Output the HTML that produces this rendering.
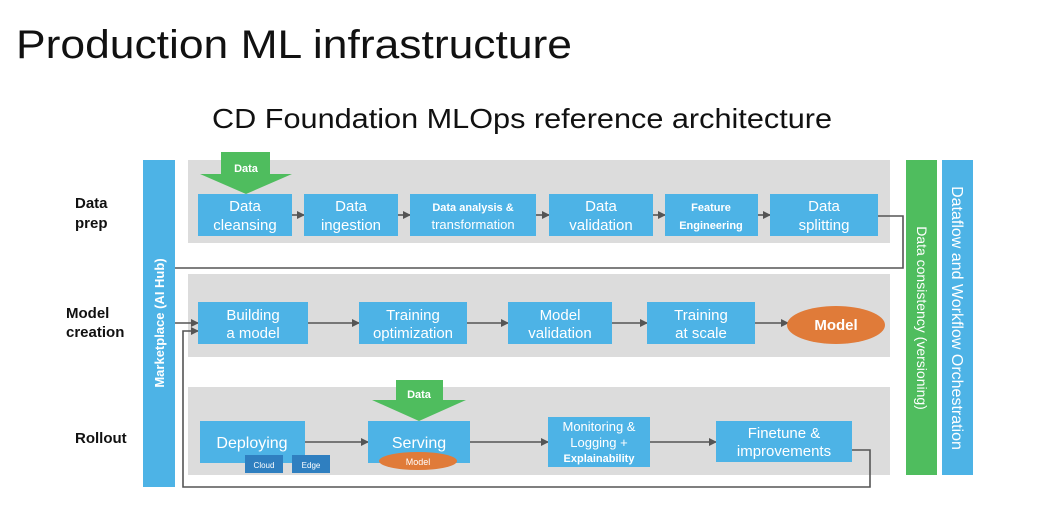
<!DOCTYPE html>
<html><head><meta charset="utf-8"><style>
html,body{margin:0;padding:0;background:#fff;}
svg{display:block;font-family:"Liberation Sans",sans-serif;}
</style></head><body>
<svg width="1064" height="522" viewBox="0 0 1064 522" xmlns="http://www.w3.org/2000/svg">
<defs>
<marker id="a" markerWidth="8" markerHeight="8" refX="7" refY="4" orient="auto" markerUnits="userSpaceOnUse">
<path d="M0,0 L8,4 L0,8 z" fill="#555"/></marker>
</defs>
<rect width="1064" height="522" fill="#fff"/>
<text x="16" y="58" font-size="40" fill="#111" textLength="556" lengthAdjust="spacingAndGlyphs">Production ML infrastructure</text>
<text x="212" y="128" font-size="28" fill="#111" textLength="620" lengthAdjust="spacingAndGlyphs">CD Foundation MLOps reference architecture</text>

<g font-weight="bold" font-size="15" fill="#111">
<text x="75" y="208">Data</text><text x="75" y="228">prep</text>
<text x="66" y="318">Model</text><text x="66" y="337">creation</text>
<text x="75" y="443">Rollout</text>
</g>

<!-- bands -->
<rect x="188" y="160" width="702" height="83" fill="#dcdcdc"/>
<rect x="188" y="274" width="702" height="83" fill="#dcdcdc"/>
<rect x="188" y="387" width="702" height="88" fill="#dcdcdc"/>

<!-- side bars -->
<rect x="143" y="160" width="32" height="327" fill="#4db3e6"/>
<text transform="translate(164,323) rotate(-90)" text-anchor="middle" font-size="13" font-weight="bold" fill="#fff">Marketplace (AI Hub)</text>
<rect x="906" y="160" width="31" height="315" fill="#4fbd5e"/>
<text transform="translate(917,318) rotate(90)" text-anchor="middle" font-size="14" fill="#fff">Data consistency (versioning)</text>
<rect x="942" y="160" width="31" height="315" fill="#4db3e6"/>
<text transform="translate(952,318) rotate(90)" text-anchor="middle" font-size="16" fill="#fff">Dataflow and Workflow Orchestration</text>

<!-- connectors -->
<g stroke="#555" stroke-width="1.6" fill="none">
<polyline points="878,216 903,216 903,268 175,268"/>
<line x1="292" y1="215" x2="304" y2="215" marker-end="url(#a)"/>
<line x1="398" y1="215" x2="410" y2="215" marker-end="url(#a)"/>
<line x1="536" y1="215" x2="549" y2="215" marker-end="url(#a)"/>
<line x1="653" y1="215" x2="665" y2="215" marker-end="url(#a)"/>
<line x1="758" y1="215" x2="770" y2="215" marker-end="url(#a)"/>
<line x1="175" y1="323" x2="198" y2="323" marker-end="url(#a)"/>
<polyline points="852,450 870,450 870,487 183,487 183,331 198,331" marker-end="url(#a)"/>
<line x1="308" y1="323" x2="359" y2="323" marker-end="url(#a)"/>
<line x1="467" y1="323" x2="508" y2="323" marker-end="url(#a)"/>
<line x1="612" y1="323" x2="647" y2="323" marker-end="url(#a)"/>
<line x1="755" y1="323" x2="788" y2="323" marker-end="url(#a)"/>
<line x1="305" y1="442" x2="368" y2="442" marker-end="url(#a)"/>
<line x1="470" y1="442" x2="548" y2="442" marker-end="url(#a)"/>
<line x1="650" y1="442" x2="716" y2="442" marker-end="url(#a)"/>
</g>

<!-- boxes -->
<g fill="#4db3e6">
<rect x="198" y="194" width="94" height="42"/>
<rect x="304" y="194" width="94" height="42"/>
<rect x="410" y="194" width="126" height="42"/>
<rect x="549" y="194" width="104" height="42"/>
<rect x="665" y="194" width="93" height="42"/>
<rect x="770" y="194" width="108" height="42"/>
<rect x="198" y="302" width="110" height="42"/>
<rect x="359" y="302" width="108" height="42"/>
<rect x="508" y="302" width="104" height="42"/>
<rect x="647" y="302" width="108" height="42"/>
<rect x="200" y="421" width="105" height="42"/>
<rect x="368" y="421" width="102" height="42"/>
<rect x="548" y="417" width="102" height="50"/>
<rect x="716" y="421" width="136" height="41"/>
</g>
<g fill="#2f7fc0">
<rect x="245" y="455" width="38" height="18"/>
<rect x="292" y="455" width="38" height="18"/>
</g>
<ellipse cx="836" cy="325" rx="49" ry="19" fill="#e07b39"/>
<ellipse cx="418" cy="461" rx="39" ry="9" fill="#e07b39"/>

<!-- Data arrows -->
<path d="M221,152 H270 V174 H292 L246,194 L200,174 H221 Z" fill="#4fbd5e"/>
<path d="M396,380 H443 V400 H466 L419,421 L372,400 H396 Z" fill="#4fbd5e"/>

<g fill="#fff" text-anchor="middle" font-size="15">
<text x="245" y="211">Data</text><text x="245" y="230">cleansing</text>
<text x="351" y="211">Data</text><text x="351" y="230">ingestion</text>
<text x="473" y="211" font-size="11" font-weight="bold">Data analysis &amp;</text><text x="473" y="229" font-size="13">transformation</text>
<text x="601" y="211">Data</text><text x="601" y="230">validation</text>
<text x="711" y="211" font-size="11" font-weight="bold">Feature</text><text x="711" y="229" font-size="11" font-weight="bold">Engineering</text>
<text x="824" y="211">Data</text><text x="824" y="230">splitting</text>
<text x="253" y="320">Building</text><text x="253" y="338">a model</text>
<text x="413" y="320">Training</text><text x="413" y="338">optimization</text>
<text x="560" y="320">Model</text><text x="560" y="338">validation</text>
<text x="701" y="320">Training</text><text x="701" y="338">at scale</text>
<text x="836" y="330" font-weight="bold">Model</text>
<text x="252" y="448" font-size="16">Deploying</text>
<text x="419" y="448" font-size="16">Serving</text>
<text x="599" y="431" font-size="13">Monitoring &amp;</text><text x="599" y="447" font-size="13">Logging +</text><text x="599" y="462" font-size="11" font-weight="bold">Explainability</text>
<text x="784" y="438">Finetune &amp;</text><text x="784" y="456">improvements</text>
<text x="264" y="468" font-size="8">Cloud</text><text x="311" y="468" font-size="8">Edge</text>
<text x="418" y="465" font-size="9">Model</text>
<text x="246" y="172" font-size="11" font-weight="bold">Data</text>
<text x="419" y="398" font-size="11" font-weight="bold">Data</text>
</g>
</svg>
</body></html>
